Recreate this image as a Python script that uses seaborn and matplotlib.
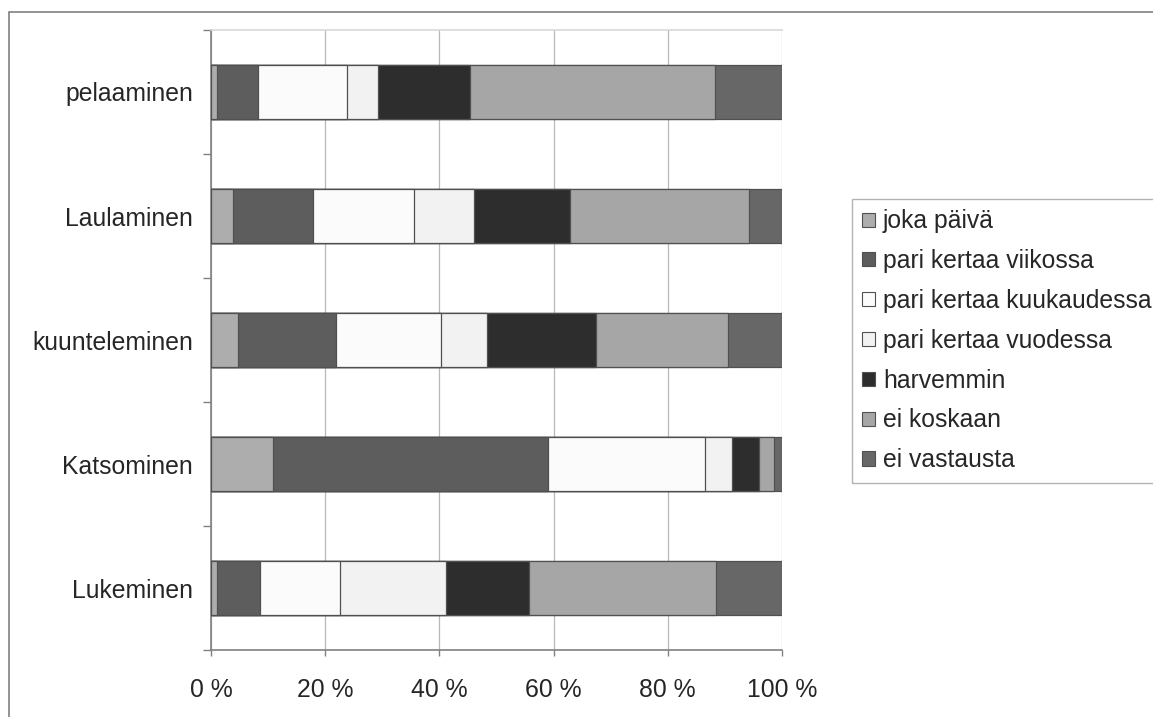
import matplotlib
matplotlib.use("Agg")
import matplotlib.pyplot as plt
from matplotlib.patches import Patch, Rectangle
from matplotlib.ticker import FixedLocator
import numpy as np
import pandas as pd
import seaborn as sns

# Activities, top to bottom
activities = ["pelaaminen", "Laulaminen", "kuunteleminen", "Katsominen", "Lukeminen"]

# Answer categories (stack order, left to right)
answers = ["joka päivä", "pari kertaa viikossa", "pari kertaa kuukaudessa",
           "pari kertaa vuodessa", "harvemmin", "ei koskaan", "ei vastausta"]

# Shares (%) per answer, in the order of `activities`
joka_paiva = [1.1, 3.8, 4.8, 10.8, 1.1]
viikossa = [7.1, 14.1, 17.1, 48.3, 7.4]
kuukaudessa = [15.7, 17.7, 18.4, 27.5, 14.1]
vuodessa = [5.3, 10.4, 8.0, 4.6, 18.6]
harvemmin = [16.2, 16.8, 19.1, 4.8, 14.5]
ei_koskaan = [42.8, 31.5, 23.2, 2.6, 32.8]
ei_vastausta = [11.8, 5.7, 9.4, 1.4, 11.5]

colors = ["#adadad", "#5d5d5d", "#fbfbfb", "#f2f2f2", "#2d2d2d", "#a6a6a6", "#676767"]

series = [joka_paiva, viikossa, kuukaudessa, vuodessa, harvemmin, ei_koskaan, ei_vastausta]
df = pd.DataFrame(dict(zip(answers, series)), index=activities)
df = df.div(df.sum(axis=1), axis=0) * 100
cum = df.cumsum(axis=1)

FS = 17.8

sns.set_theme(style="white")
plt.rcParams["font.family"] = ["Liberation Sans", "DejaVu Sans"]

fig = plt.figure(figsize=(11.53, 7.17), dpi=100)
ax = fig.add_axes([211 / 1153, 1 - 650 / 717, 571 / 1153, 620 / 717])

# Stacked bars: draw cumulative totals from the widest down so each
# segment ends at its own boundary.
for name, col in reversed(list(zip(answers, colors))):
    sns.barplot(x=cum[name].values, y=activities, order=activities, orient="h",
                color=col, width=0.43, saturation=1, edgecolor="#505050",
                linewidth=0.9, ax=ax, zorder=3)

ax.set_xlim(0, 100)
ax.set_ylim(4.5, -0.5)
ax.set_xticks(np.arange(0, 101, 20))
ax.set_xticklabels([f"{v} %" for v in range(0, 101, 20)], fontsize=FS)
ax.set_yticklabels(activities, fontsize=FS)
ax.set_xlabel("")
ax.set_ylabel("")

ax.grid(axis="x", color="#b8b8b8", linewidth=0.9, zorder=0)
ax.set_axisbelow(True)
ax.tick_params(axis="y", which="major", length=0, pad=13)
ax.yaxis.set_minor_locator(FixedLocator(np.arange(-0.5, 5, 1.0)))
ax.tick_params(axis="y", which="minor", left=True, length=6, width=1, color="#808080")
ax.tick_params(axis="x", which="major", bottom=True, length=4, width=1,
               color="#808080", pad=16)

for side in ["left", "bottom"]:
    ax.spines[side].set_color("#808080")
    ax.spines[side].set_linewidth(1.2)
ax.spines["top"].set_color("#d8d8d8")
ax.spines["top"].set_linewidth(1.2)
ax.spines["right"].set_visible(False)

handles = [Patch(facecolor=c, edgecolor="#505050", linewidth=0.8) for c in colors]
leg = fig.legend(handles, answers, loc="upper left",
                 bbox_to_anchor=(852 / 1153, 1 - 199 / 717),
                 bbox_transform=fig.transFigure, borderaxespad=0, fontsize=FS,
                 frameon=True, fancybox=False, edgecolor="#a0a0a0",
                 handlelength=0.5, handleheight=0.5, handletextpad=0.33,
                 labelspacing=0.64, borderpad=0.42)
leg.get_frame().set_linewidth(1.0)

# Outer frame of the chart area
fig.add_artist(Rectangle((9 / 1153, -0.1), 1.2, 1 - 12 / 717 + 0.1,
                         transform=fig.transFigure, fill=False,
                         edgecolor="#808080", linewidth=1.2))

fig.savefig("out.png", dpi=100)
